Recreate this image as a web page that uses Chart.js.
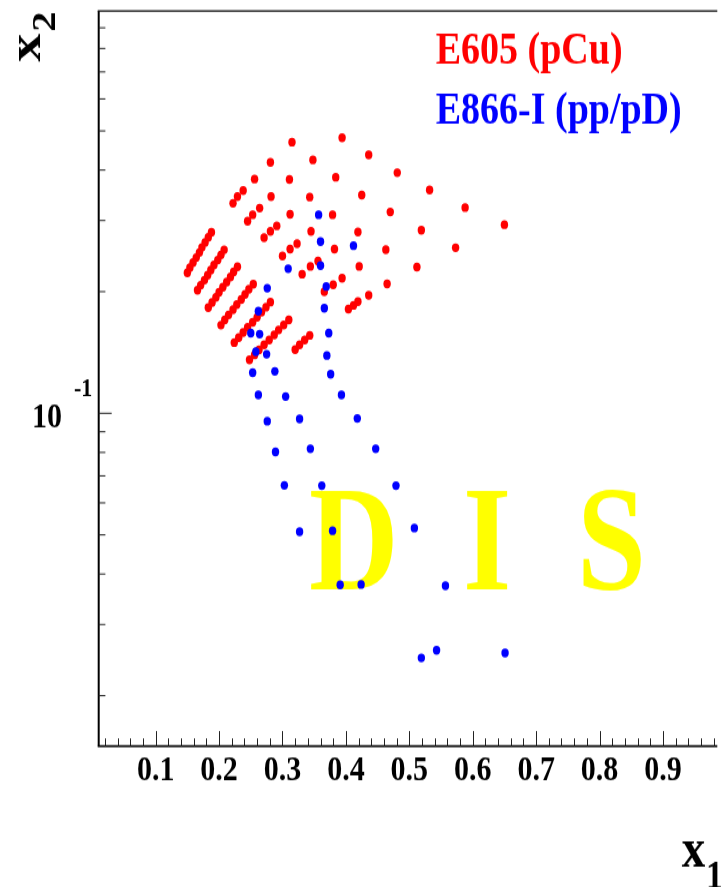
<!DOCTYPE html>
<html>
<head>
<meta charset="utf-8">
<script src="https://cdn.jsdelivr.net/npm/chart.js@4/dist/chart.umd.min.js"></script>
<style>
  html, body { margin: 0; padding: 0; background: #fff; }
  /* the original figure is stretched vertically, so the canvas is drawn
     at 721x739 and shown at 721x887 */
  #plot { display: block; width: 721px !important; height: 887px !important; }
</style>
</head>
<body>
<canvas id="plot" width="721" height="739"></canvas>
<script>
// E605 (pCu) kinematic points, x1 / x2
var e605X = [
  0.394, 0.436, 0.481, 0.532, 0.588, 0.650,
  0.315, 0.348, 0.384, 0.425, 0.470, 0.519, 0.573,
  0.281, 0.311, 0.343, 0.379, 0.419, 0.463, 0.512,
  0.256, 0.282, 0.312, 0.345, 0.382, 0.421, 0.465,
  0.238, 0.229, 0.222, 0.264, 0.253, 0.245, 0.291, 0.281, 0.271,
  0.323, 0.312, 0.300, 0.356, 0.344, 0.331, 0.394, 0.380, 0.366,
  0.436, 0.419, 0.412, 0.404,
  0.150, 0.154, 0.159, 0.164, 0.169, 0.173, 0.178, 0.183, 0.188,
  0.166, 0.171, 0.177, 0.182, 0.187, 0.192, 0.198, 0.203, 0.208,
  0.183, 0.189, 0.195, 0.200, 0.206, 0.212, 0.218, 0.223, 0.229,
  0.203, 0.209, 0.215, 0.222, 0.228, 0.235, 0.241, 0.247, 0.254,
  0.224, 0.231, 0.238, 0.245, 0.253, 0.260, 0.267, 0.274, 0.281,
  0.248, 0.256, 0.263, 0.271, 0.279, 0.287, 0.294, 0.302, 0.310,
  0.320, 0.327, 0.335, 0.343
];
var e605Y = [
  0.481, 0.436, 0.394, 0.357, 0.323, 0.293,
  0.469, 0.424, 0.384, 0.347, 0.315, 0.284, 0.257,
  0.418, 0.379, 0.343, 0.310, 0.281, 0.254, 0.230,
  0.380, 0.344, 0.311, 0.282, 0.255, 0.231, 0.209,
  0.356, 0.344, 0.331, 0.322, 0.310, 0.299, 0.291, 0.282, 0.272,
  0.263, 0.255, 0.245, 0.238, 0.231, 0.221, 0.216, 0.208, 0.200,
  0.196, 0.189, 0.185, 0.181,
  0.2228, 0.2293, 0.2360, 0.2429, 0.2500, 0.2574, 0.2649, 0.2727, 0.2807,
  0.2016, 0.2075, 0.2136, 0.2198, 0.2262, 0.2328, 0.2396, 0.2466, 0.2539,
  0.1827, 0.1881, 0.1936, 0.1993, 0.2052, 0.2113, 0.2175, 0.2239, 0.2305,
  0.1653, 0.1702, 0.1752, 0.1804, 0.1858, 0.1913, 0.1969, 0.2028, 0.2088,
  0.1496, 0.1540, 0.1585, 0.1631, 0.1679, 0.1728, 0.1779, 0.1831, 0.1885,
  0.1356, 0.1395, 0.1435, 0.1477, 0.1519, 0.1563, 0.1608, 0.1654, 0.1702,
  0.1438, 0.1477, 0.1518, 0.1559
];

// E866-I (pp/pD) kinematic points
var e866X = [
  0.357, 0.360, 0.412, 0.309, 0.360, 0.369, 0.276, 0.262, 0.366,
  0.250, 0.264, 0.373, 0.258, 0.275, 0.370, 0.253, 0.288, 0.376,
  0.262, 0.305, 0.393, 0.276, 0.327, 0.418, 0.289, 0.344, 0.447,
  0.303, 0.362, 0.479, 0.327, 0.379, 0.508, 0.391, 0.424, 0.557,
  0.519, 0.543, 0.651
];
var e866Y = [
  0.310, 0.266, 0.260, 0.228, 0.232, 0.206, 0.204, 0.179, 0.182,
  0.158, 0.157, 0.158, 0.142, 0.140, 0.139, 0.126, 0.127, 0.125,
  0.111, 0.110, 0.111, 0.0956, 0.0968, 0.0971, 0.0802, 0.0817, 0.0817,
  0.0663, 0.0662, 0.0662, 0.0509, 0.0512, 0.0520, 0.0376, 0.0377, 0.0374,
  0.0248, 0.0259, 0.0255
];

var xMajorTicks = [0.1, 0.2, 0.3, 0.4, 0.5, 0.6, 0.7, 0.8, 0.9];
var xTickLabels = ['0.1', '0.2', '0.3', '0.4', '0.5', '0.6', '0.7', '0.8', '0.9'];
var yMajorTicks = [0.1];
var yMinorTicks = [0.02, 0.03, 0.04, 0.05, 0.06, 0.07, 0.08, 0.09,
                   0.2, 0.3, 0.4, 0.5, 0.6, 0.7, 0.8, 0.9];

var SERIF = '"Liberation Serif", "Times New Roman", serif';

function toPoints(xs, ys) {
    return xs.map(function(x, i) { return { x: x, y: ys[i] }; });
}

function isMajor(list, v) {
    for (var i = 0; i < list.length; i++) {
        if (Math.abs(list[i] - v) < 1e-9) return i;
    }
    return -1;
}

// x minor ticks every 0.02
var xTickValues = [];
for (var k = 2; k <= 98; k += 2) xTickValues.push(k / 100);

var decor = {
    id: 'decor',
    beforeDatasetsDraw: function(chart) {
        var ctx = chart.ctx;
        ctx.save();
        ctx.fillStyle = '#ffff00';
        ctx.font = 'bold 124px ' + SERIF;
        ctx.textAlign = 'left';
        ctx.textBaseline = 'alphabetic';
        ctx.fillText('D', 309, 491);
        ctx.fillText('I', 463, 491);
        ctx.fillText('S', 577, 491);
        ctx.restore();
    },
    afterDraw: function(chart) {
        var ctx = chart.ctx;
        var a = chart.chartArea;
        var xs = chart.scales.x, ys = chart.scales.y;
        ctx.save();

        // frame
        ctx.strokeStyle = '#000';
        ctx.lineWidth = 2;
        ctx.beginPath();
        ctx.moveTo(a.left, a.top);
        ctx.lineTo(a.left, a.bottom);
        ctx.stroke();
        ctx.lineWidth = 1.6;
        ctx.beginPath();
        ctx.moveTo(a.left - 1, a.bottom);
        ctx.lineTo(a.right, a.bottom);
        ctx.stroke();
        ctx.lineWidth = 1.3;
        ctx.beginPath();
        ctx.moveTo(a.left - 1, a.top);
        ctx.lineTo(a.right, a.top);
        ctx.stroke();

        // tick marks pointing into the frame
        ctx.lineWidth = 1;
        ctx.strokeStyle = '#222';
        xs.ticks.forEach(function(t) {
            var px = Math.round(xs.getPixelForValue(t.value)) + 0.5;
            var len = isMajor(xMajorTicks, t.value) >= 0 ? 12.5 : 6.4;
            ctx.beginPath();
            ctx.moveTo(px, a.bottom);
            ctx.lineTo(px, a.bottom - len);
            ctx.stroke();
        });
        ys.ticks.forEach(function(t) {
            var py = ys.getPixelForValue(t.value);
            var len = isMajor(yMajorTicks, t.value) >= 0 ? 13 : 6.7;
            ctx.beginPath();
            ctx.moveTo(a.left, py);
            ctx.lineTo(a.left + len, py);
            ctx.stroke();
        });

        // y label 10^-1
        ctx.fillStyle = '#000';
        ctx.textBaseline = 'alphabetic';
        var p1 = ys.getPixelForValue(0.1);
        ctx.font = 'bold 30px ' + SERIF;
        ctx.textAlign = 'right';
        ctx.fillText('10', 62, p1 + 11.6);
        ctx.font = 'bold 22px ' + SERIF;
        ctx.textAlign = 'left';
        ctx.fillText('-1', 74, p1 - 14.4);

        // axis titles
        ctx.font = 'bold 47px ' + SERIF;
        ctx.fillText('x', 681.7, 722.2);
        ctx.font = 'bold 34px ' + SERIF;
        ctx.fillText('1', 706, 740);

        ctx.save();
        ctx.translate(40, 51.4);
        ctx.rotate(-Math.PI / 2);
        ctx.font = 'bold 47px ' + SERIF;
        ctx.fillText('x', 0, 0);
        ctx.font = 'bold 34px ' + SERIF;
        ctx.fillText('2', 25, 15);
        ctx.restore();

        // legend texts
        ctx.font = 'bold 38px ' + SERIF;
        ctx.fillStyle = '#ff0000';
        ctx.fillText('E605 (pCu)', 435.7, 52.75);
        ctx.fillStyle = '#0000ff';
        ctx.fillText('E866-I (pp/pD)', 435.7, 102.75);

        ctx.restore();
    }
};

new Chart(document.getElementById('plot'), {
    type: 'scatter',
    data: {
        datasets: [{
            label: 'E605 (pCu)',
            data: toPoints(e605X, e605Y),
            backgroundColor: '#ff0000',
            borderWidth: 0,
            pointRadius: 3.7,
            pointHoverRadius: 3.7,
            order: 2
        }, {
            label: 'E866-I (pp/pD)',
            data: toPoints(e866X, e866Y),
            backgroundColor: '#0000ff',
            borderWidth: 0,
            pointRadius: 3.7,
            pointHoverRadius: 3.7,
            order: 1
        }]
    },
    options: {
        responsive: false,
        animation: false,
        events: [],
        layout: { padding: { left: 98.7, top: 9.2, right: 0, bottom: 75.4 } },
        plugins: {
            legend: { display: false },
            tooltip: { enabled: false }
        },
        scales: {
            x: {
                type: 'linear',
                min: 0.0102,
                max: 0.9857,
                grid: { display: false, drawTicks: false },
                border: { display: false },
                afterBuildTicks: function(s) {
                    s.ticks = xTickValues.map(function(v) { return { value: v }; });
                },
                ticks: {
                    autoSkip: false,
                    maxRotation: 0,
                    minRotation: 0,
                    padding: 3,
                    color: '#000',
                    font: { family: SERIF, size: 30, weight: 'bold' },
                    callback: function(v) {
                        var i = isMajor(xMajorTicks, v);
                        return i >= 0 ? xTickLabels[i] : '';
                    }
                }
            },
            y: {
                type: 'logarithmic',
                min: 0.015,
                max: 0.99,
                grid: { display: false, drawTicks: false },
                border: { display: false },
                afterBuildTicks: function(s) {
                    s.ticks = yMinorTicks.concat(yMajorTicks).map(function(v) { return { value: v }; });
                },
                ticks: { display: false }
            }
        }
    },
    plugins: [decor]
});
</script>
</body>
</html>
